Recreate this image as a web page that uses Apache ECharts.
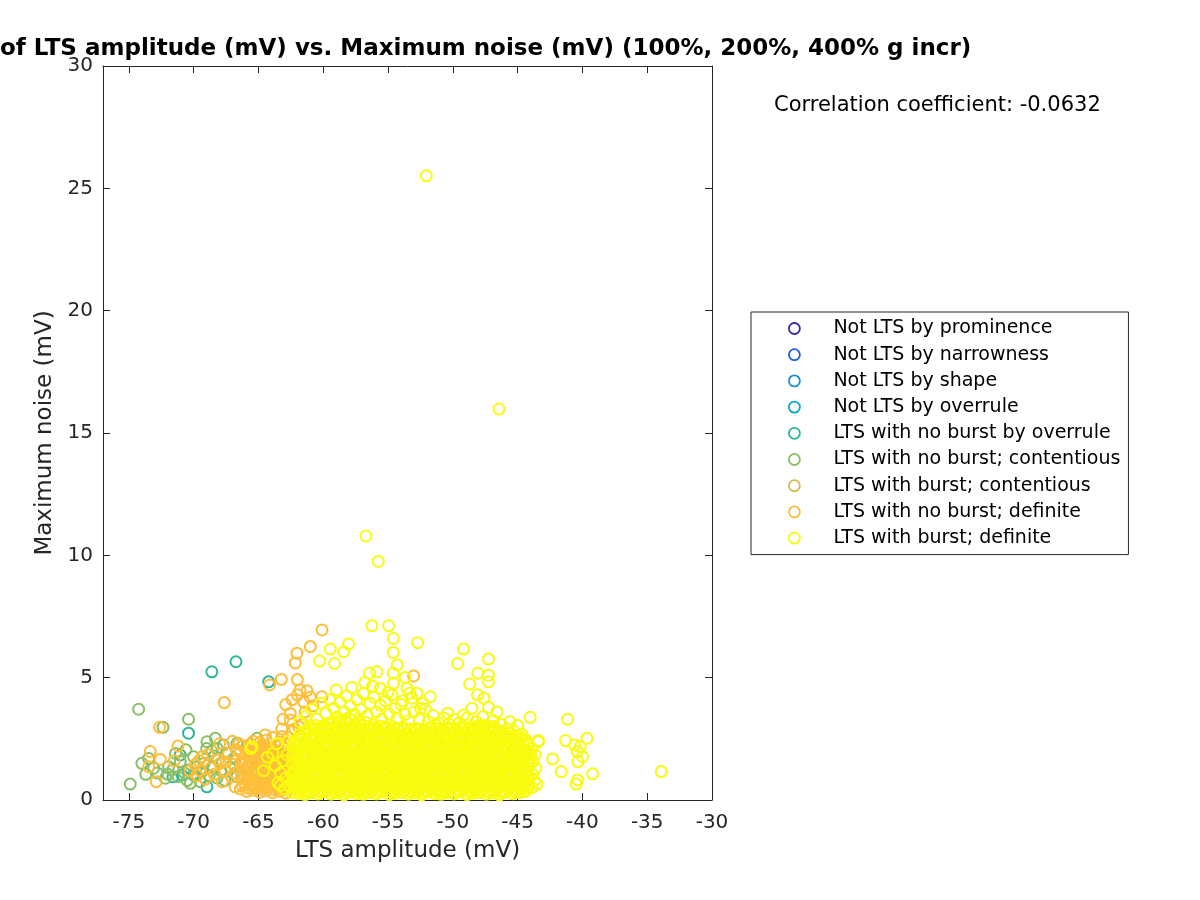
<!DOCTYPE html>
<html>
<head>
<meta charset="utf-8">
<script src="https://cdn.jsdelivr.net/npm/echarts@6/dist/echarts.min.js"></script>
<style>html,body{margin:0;padding:0;background:#fff}#chart{width:1200px;height:900px}</style>
</head>
<body>
<div id="chart"></div>
<script>
// ---------- DATA ----------
const categoryNames = ['Not LTS by prominence','Not LTS by narrowness','Not LTS by shape','Not LTS by overrule','LTS with no burst by overrule','LTS with no burst; contentious','LTS with burst; contentious','LTS with no burst; definite','LTS with burst; definite'];
const categoryColors = ['#3E26A8','#1A5FE6','#1D8CDE','#08A9C6','#2FB69B','#89BF66','#D6B74E','#FDBE3A','#F9FB0E'];
const xTicks = [-75,-70,-65,-60,-55,-50,-45,-40,-35,-30];
const yTicks = [0,5,10,15,20,25,30];
const correlationText = 'Correlation coefficient: -0.0632';

const notLtsProminence = [];
const notLtsNarrowness = [];
const notLtsShape = [];
const notLtsOverrule = [];

const noBurstOverrule = [[-68.6,5.24],[-66.74,5.65],[-64.22,4.83],[-70.4,2.73],[-71.04,1.84],[-70.9,1.02],[-70.0,1.02],[-68.98,0.54],[-63.57,1.91],[-66.2,1.05],[-71.6,0.95],[-70.4,1.22]];

const noBurstContentious = [[-74.25,3.71],[-72.37,2.97],[-70.4,3.3],[-73.48,1.7],[-74.9,0.65],[-72.19,0.89],[-71.94,1.36],[-71.04,1.57],[-70.01,1.77],[-69.75,1.36],[-70.26,0.68],[-69.36,1.16],[-68.98,2.38],[-68.33,2.52],[-68.2,2.11],[-68.6,2.0],[-67.43,1.91],[-66.66,2.32],[-66.66,0.95],[-65.12,2.52],[-63.57,0.5],[-73.1,1.3],[-72.8,1.1],[-72.0,1.05],[-71.6,1.25],[-71.2,0.95],[-70.7,1.1],[-70.5,0.8],[-69.9,1.0],[-69.5,0.75],[-69.2,1.5],[-68.8,1.0],[-68.5,1.35],[-68.2,0.9],[-67.9,1.2],[-67.6,0.8],[-67.2,1.35],[-66.9,1.7],[-66.4,1.5],[-65.9,1.3],[-65.4,1.8],[-64.8,2.1],[-64.2,1.6],[-63.7,1.2],[-69.0,2.1],[-68.4,1.8],[-67.7,2.25],[-71.4,1.9],[-70.6,2.05],[-74.0,1.5],[-73.7,1.05]];

const burstContentious = [];

const noBurstDefiniteSpread = [[-64.14,4.7],[-63.24,4.93],[-67.64,3.98],[-72.63,2.97],[-71.21,2.21],[-73.35,1.98],[-73.48,1.36],[-72.58,1.66],[-72.89,0.75],[-69.36,1.77],[-69.75,1.0],[-67.95,1.5],[-66.5,2.3],[-66.8,0.54],[-64.48,2.66],[-65.5,2.11],[-64.48,2.2],[-63.57,2.0],[-63.3,1.6],[-63.45,0.68],[-62.55,3.27],[-62.03,6.0],[-62.16,5.6],[-61.0,6.27],[-60.1,6.95],[-62.0,4.92],[-61.8,4.5],[-61.0,4.2],[-53.03,5.07],[-60.1,4.22],[-61.26,4.47],[-62.0,4.3],[-62.55,3.54],[-63.1,3.3],[-61.5,4.0],[-60.8,3.85],[-63.2,2.9],[-62.9,3.9],[-62.4,4.1],[-61.4,3.6],
[-69.9,1.45],[-69.5,1.2],[-69.1,0.85],[-68.7,1.3],[-68.4,1.05],[-68.1,1.65],[-67.8,0.75],[-67.6,1.2],[-67.3,1.9],[-67.1,0.95],[-66.9,1.45],[-66.7,2.05],[-67.5,1.55],[-68.9,1.85],[-69.6,1.6],[-70.3,1.2],[-71.5,1.6],[-68.0,2.3],[-67.0,2.4],[-66.8,1.1]];

const noBurstDefiniteCore = [[-66.4,0.45],[-66.1,0.7],[-66.3,0.95],[-66.05,1.2],[-66.35,1.45],[-66.15,1.7],[-66.4,1.95],[-66.2,2.2],
[-65.9,0.35],[-65.6,0.6],[-65.85,0.85],[-65.55,1.08],[-65.75,1.3],[-65.95,1.55],[-65.65,1.78],[-65.8,2.02],[-65.6,2.3],[-65.9,1.15],
[-65.4,0.4],[-65.15,0.62],[-65.35,0.84],[-65.05,1.05],[-65.25,1.26],[-65.45,1.48],[-65.1,1.7],[-65.3,1.92],[-65.0,2.15],[-65.4,2.4],[-65.2,0.98],
[-64.9,0.32],[-64.6,0.55],[-64.85,0.78],[-64.55,1.0],[-64.75,1.22],[-64.95,1.44],[-64.65,1.66],[-64.8,1.88],[-64.55,2.1],[-64.9,2.35],[-64.7,0.9],
[-64.4,0.38],[-64.15,0.6],[-64.35,0.82],[-64.05,1.04],[-64.25,1.26],[-64.45,1.48],[-64.1,1.7],[-64.3,1.92],[-64.0,2.14],[-64.4,2.45],
[-63.9,0.3],[-63.6,0.52],[-63.85,0.75],[-63.55,0.97],[-63.75,1.19],[-63.95,1.41],[-63.65,1.63],[-63.8,1.85],[-63.55,2.2],[-63.9,2.55],
[-63.4,0.36],[-63.15,0.58],[-63.35,0.8],[-63.05,1.02],[-63.25,1.24],[-63.45,1.46],[-63.1,1.68],[-63.3,1.9],[-63.0,2.12],[-63.4,2.36],[-63.2,2.6],
[-62.9,0.28],[-62.6,0.5],[-62.85,0.72],[-62.5,0.95],[-62.75,1.17],[-62.95,1.4],[-62.6,1.62],[-62.8,1.84],[-62.5,2.06],[-62.9,2.3],[-62.7,2.55],[-62.4,2.8],
[-62.2,2.9],[-61.9,3.0],[-61.6,3.1]];

const noBurstDefiniteFill = [[-65.75,0.48],[-65.7,0.97],[-65.78,1.42],[-65.72,1.9],[-65.25,0.5],[-65.22,1.15],[-65.28,1.6],[-65.2,2.05],[-64.75,0.44],[-64.72,1.1],[-64.78,1.55],[-64.7,2.0],[-64.25,0.5],[-64.22,0.93],[-64.28,1.37],[-64.2,1.8],[-63.75,0.42],[-63.72,0.86],[-63.78,1.3],[-63.7,1.74],[-63.25,0.47],[-63.22,0.9],[-63.28,1.35],[-63.2,1.79],[-62.75,0.4],[-62.72,0.84],[-62.78,1.28],[-62.7,1.72],[-66.25,0.58],[-66.22,1.08],[-66.28,1.58]];

const burstDefiniteCoreA = [[-62.4,0.31],[-62.2,0.52],[-62.45,0.74],[-62.1,0.9],[-62.3,1.12],[-62.05,1.3],[-62.4,1.48],[-62.15,1.66],[-62.35,1.85],[-62.0,2.02],[-62.25,2.2],[-62.1,2.41],[-62.4,1.02],[-62.2,0.63],
[-61.9,0.27],[-61.6,0.45],[-61.8,0.66],[-61.55,0.83],[-61.95,1.0],[-61.7,1.19],[-61.6,1.37],[-61.85,1.55],[-61.65,1.72],[-61.9,1.9],[-61.55,2.08],[-61.75,2.27],[-61.6,2.5],[-61.8,2.68],[-61.7,0.95],[-61.9,1.42],
[-61.4,0.22],[-61.15,0.4],[-61.35,0.58],[-61.05,0.77],[-61.3,0.93],[-61.1,1.1],[-61.45,1.28],[-61.2,1.46],[-61.0,1.63],[-61.35,1.81],[-61.1,1.99],[-61.4,2.17],[-61.2,2.36],[-61.05,2.55],[-61.3,2.73],[-61.15,2.9],
[-60.9,0.3],[-60.6,0.48],[-60.85,0.67],[-60.55,0.86],[-60.75,1.04],[-60.95,1.21],[-60.6,1.39],[-60.8,1.57],[-60.55,1.75],[-60.9,1.92],[-60.7,2.11],[-60.6,2.3],[-60.85,2.49],[-60.65,2.68],[-60.8,2.86],[-60.6,3.05],
[-60.4,0.25],[-60.1,0.43],[-60.35,0.62],[-60.05,0.8],[-60.25,0.98],[-60.45,1.16],[-60.15,1.34],[-60.3,1.52],[-60.05,1.7],[-60.4,1.88],[-60.2,2.06],[-60.0,2.25],[-60.35,2.44],[-60.15,2.62],[-60.3,2.81],[-60.1,3.0],
[-59.9,0.33],[-59.6,0.5],[-59.85,0.7],[-59.55,0.88],[-59.75,1.06],[-59.95,1.24],[-59.65,1.41],[-59.8,1.6],[-59.55,1.78],[-59.9,1.96],[-59.7,2.14],[-59.6,2.33],[-59.85,2.52],[-59.65,2.71],[-59.8,2.9],[-59.6,3.1],
[-59.4,0.24],[-59.15,0.41],[-59.35,0.6],[-59.05,0.79],[-59.25,0.97],[-59.45,1.15],[-59.1,1.33],[-59.3,1.51],[-59.0,1.69],[-59.4,1.87],[-59.2,2.05],[-59.05,2.24],[-59.35,2.43],[-59.15,2.61],[-59.3,2.8],[-59.1,3.0],[-59.25,3.2],
[-58.9,0.29],[-58.6,0.47],[-58.85,0.65],[-58.55,0.84],[-58.75,1.02],[-58.95,1.2],[-58.65,1.38],[-58.8,1.56],[-58.55,1.74],[-58.9,1.92],[-58.7,2.1],[-58.6,2.29],[-58.85,2.48],[-58.65,2.67],[-58.8,2.86],[-58.6,3.06],[-58.75,3.26],
[-58.4,0.21],[-58.1,0.39],[-58.35,0.57],[-58.05,0.76],[-58.25,0.94],[-58.45,1.12],[-58.15,1.3],[-58.3,1.48],[-58.05,1.66],[-58.4,1.84],[-58.2,2.02],[-58.0,2.21],[-58.35,2.4],[-58.15,2.58],[-58.3,2.77],[-58.1,2.96],[-58.25,3.16],[-58.05,3.35],
[-57.9,0.32],[-57.6,0.5],[-57.85,0.68],[-57.55,0.87],[-57.75,1.05],[-57.95,1.23],[-57.65,1.41],[-57.8,1.59],[-57.55,1.77],[-57.9,1.95],[-57.7,2.13],[-57.6,2.32],[-57.85,2.51],[-57.65,2.7],[-57.8,2.89],[-57.6,3.08],[-57.75,3.28],
[-57.4,0.26],[-57.15,0.44],[-57.35,0.63],[-57.05,0.81],[-57.25,0.99],[-57.45,1.17],[-57.1,1.35],[-57.3,1.53],[-57.0,1.71],[-57.4,1.89],[-57.2,2.07],[-57.05,2.26],[-57.35,2.45],[-57.15,2.64],[-57.3,2.83],[-57.1,3.03],[-57.25,3.22],
[-56.9,0.23],[-56.6,0.41],[-56.85,0.6],[-56.55,0.78],[-56.75,0.96],[-56.95,1.14],[-56.65,1.32],[-56.8,1.5],[-56.55,1.68],[-56.9,1.86],[-56.7,2.04],[-56.6,2.23],[-56.85,2.42],[-56.65,2.61],[-56.8,2.8],[-56.6,3.0],[-56.75,3.18],
[-56.4,0.3],[-56.15,0.48],[-56.35,0.66],[-56.05,0.85],[-56.25,1.03],[-56.45,1.21],[-56.1,1.39],[-56.3,1.57],[-56.0,1.75],[-56.4,1.93],[-56.2,2.11],[-56.05,2.3],[-56.35,2.49],[-56.15,2.68],[-56.3,2.87],[-56.1,3.07]];

const burstDefiniteFillA = [[-62.25,0.42],[-62.3,0.8],[-62.2,1.2],[-62.3,1.57],[-62.2,1.94],[-62.3,2.3],
[-61.75,0.36],[-61.8,0.74],[-61.72,1.1],[-61.78,1.47],[-61.7,1.83],[-61.8,2.18],[-61.72,2.56],
[-61.25,0.31],[-61.22,0.68],[-61.28,1.03],[-61.2,1.38],[-61.27,1.73],[-61.23,2.08],[-61.3,2.45],[-61.22,2.8],
[-60.75,0.39],[-60.72,0.76],[-60.78,1.12],[-60.7,1.48],[-60.76,1.84],[-60.8,2.2],[-60.73,2.58],[-60.77,2.95],
[-60.25,0.34],[-60.2,0.71],[-60.27,1.07],[-60.22,1.43],[-60.18,1.79],[-60.28,2.15],[-60.24,2.53],[-60.2,2.9],
[-59.75,0.41],[-59.72,0.79],[-59.78,1.15],[-59.7,1.51],[-59.76,1.87],[-59.8,2.23],[-59.73,2.61],[-59.77,3.0],
[-59.25,0.33],[-59.22,0.7],[-59.28,1.06],[-59.2,1.42],[-59.27,1.78],[-59.23,2.14],[-59.3,2.52],[-59.22,2.9],
[-58.75,0.38],[-58.72,0.75],[-58.78,1.11],[-58.7,1.47],[-58.76,1.83],[-58.8,2.19],[-58.73,2.57],[-58.77,2.96],[-58.72,3.16],
[-58.25,0.3],[-58.22,0.67],[-58.28,1.03],[-58.2,1.39],[-58.27,1.75],[-58.23,2.11],[-58.3,2.49],[-58.22,2.87],[-58.27,3.25],
[-57.75,0.41],[-57.72,0.78],[-57.78,1.14],[-57.7,1.5],[-57.76,1.86],[-57.8,2.22],[-57.73,2.6],[-57.77,2.98],
[-57.25,0.35],[-57.22,0.72],[-57.28,1.08],[-57.2,1.44],[-57.27,1.8],[-57.23,2.16],[-57.3,2.54],[-57.22,2.93],
[-56.75,0.32],[-56.72,0.69],[-56.78,1.05],[-56.7,1.41],[-56.76,1.77],[-56.8,2.13],[-56.73,2.51],[-56.77,2.9],
[-56.25,0.39],[-56.22,0.76],[-56.28,1.12],[-56.2,1.48],[-56.27,1.84],[-56.23,2.2],[-56.3,2.58],[-56.22,2.95]];

const burstDefiniteCoreB = [[-55.9,0.25],[-55.6,0.43],[-55.85,0.62],[-55.55,0.8],[-55.75,0.98],[-55.95,1.16],[-55.65,1.34],[-55.8,1.52],[-55.55,1.7],[-55.9,1.88],[-55.7,2.06],[-55.6,2.25],[-55.85,2.44],[-55.65,2.63],[-55.8,2.82],[-55.6,3.02],
[-55.4,0.34],[-55.15,0.52],[-55.35,0.7],[-55.05,0.89],[-55.25,1.07],[-55.45,1.25],[-55.1,1.43],[-55.3,1.61],[-55.0,1.79],[-55.4,1.97],[-55.2,2.15],[-55.05,2.34],[-55.35,2.53],[-55.15,2.72],[-55.3,2.92],
[-54.9,0.22],[-54.6,0.4],[-54.85,0.59],[-54.55,0.77],[-54.75,0.95],[-54.95,1.13],[-54.65,1.31],[-54.8,1.49],[-54.55,1.67],[-54.9,1.85],[-54.7,2.03],[-54.6,2.22],[-54.85,2.41],[-54.65,2.6],[-54.8,2.79],[-54.6,2.98],
[-54.4,0.28],[-54.15,0.46],[-54.35,0.65],[-54.05,0.83],[-54.25,1.01],[-54.45,1.19],[-54.1,1.37],[-54.3,1.55],[-54.0,1.73],[-54.4,1.91],[-54.2,2.09],[-54.05,2.28],[-54.35,2.47],[-54.15,2.66],[-54.3,2.86],
[-53.9,0.31],[-53.6,0.49],[-53.85,0.67],[-53.55,0.86],[-53.75,1.04],[-53.95,1.22],[-53.65,1.4],[-53.8,1.58],[-53.55,1.76],[-53.9,1.94],[-53.7,2.12],[-53.6,2.31],[-53.85,2.5],[-53.65,2.69],[-53.8,2.88],
[-53.4,0.24],[-53.15,0.42],[-53.35,0.61],[-53.05,0.79],[-53.25,0.97],[-53.45,1.15],[-53.1,1.33],[-53.3,1.51],[-53.0,1.69],[-53.4,1.87],[-53.2,2.05],[-53.05,2.24],[-53.35,2.43],[-53.15,2.62],[-53.3,2.82],
[-52.9,0.29],[-52.6,0.47],[-52.85,0.66],[-52.55,0.84],[-52.75,1.02],[-52.95,1.2],[-52.65,1.38],[-52.8,1.56],[-52.55,1.74],[-52.9,1.92],[-52.7,2.1],[-52.6,2.29],[-52.85,2.48],[-52.65,2.67],[-52.8,2.85],
[-52.4,0.21],[-52.15,0.39],[-52.35,0.58],[-52.05,0.76],[-52.25,0.94],[-52.45,1.12],[-52.1,1.3],[-52.3,1.48],[-52.0,1.66],[-52.4,1.84],[-52.2,2.02],[-52.05,2.21],[-52.35,2.4],[-52.15,2.59],[-52.3,2.78],
[-51.9,0.33],[-51.6,0.51],[-51.85,0.69],[-51.55,0.88],[-51.75,1.06],[-51.95,1.24],[-51.65,1.42],[-51.8,1.6],[-51.55,1.78],[-51.9,1.96],[-51.7,2.14],[-51.6,2.33],[-51.85,2.52],[-51.65,2.71],[-51.8,2.88],
[-51.4,0.26],[-51.15,0.44],[-51.35,0.63],[-51.05,0.81],[-51.25,0.99],[-51.45,1.17],[-51.1,1.35],[-51.3,1.53],[-51.0,1.71],[-51.4,1.89],[-51.2,2.07],[-51.05,2.26],[-51.35,2.45],[-51.15,2.64],[-51.3,2.84],
[-50.9,0.23],[-50.6,0.41],[-50.85,0.6],[-50.55,0.78],[-50.75,0.96],[-50.95,1.14],[-50.65,1.32],[-50.8,1.5],[-50.55,1.68],[-50.9,1.86],[-50.7,2.04],[-50.6,2.23],[-50.85,2.42],[-50.65,2.61],[-50.8,2.81],
[-50.4,0.3],[-50.15,0.48],[-50.35,0.66],[-50.05,0.85],[-50.25,1.03],[-50.45,1.21],[-50.1,1.39],[-50.3,1.57],[-50.0,1.75],[-50.4,1.93],[-50.2,2.11],[-50.05,2.3],[-50.35,2.49],[-50.15,2.68],[-50.3,2.87]];

const burstDefiniteFillB = [[-55.75,0.34],[-55.72,0.71],[-55.78,1.07],[-55.7,1.43],[-55.76,1.79],[-55.8,2.15],[-55.73,2.53],[-55.77,2.9],
[-55.25,0.43],[-55.22,0.8],[-55.28,1.16],[-55.2,1.52],[-55.27,1.88],[-55.23,2.24],[-55.3,2.62],[-55.22,2.98],
[-54.75,0.31],[-54.72,0.68],[-54.78,1.04],[-54.7,1.4],[-54.76,1.76],[-54.8,2.12],[-54.73,2.5],[-54.77,2.88],
[-54.25,0.37],[-54.22,0.74],[-54.28,1.1],[-54.2,1.46],[-54.27,1.82],[-54.23,2.18],[-54.3,2.56],[-54.22,2.92],
[-53.75,0.4],[-53.72,0.77],[-53.78,1.13],[-53.7,1.49],[-53.76,1.85],[-53.8,2.21],[-53.73,2.59],[-53.77,2.95],
[-53.25,0.33],[-53.22,0.7],[-53.28,1.06],[-53.2,1.42],[-53.27,1.78],[-53.23,2.14],[-53.3,2.52],[-53.22,2.9],
[-52.75,0.38],[-52.72,0.75],[-52.78,1.11],[-52.7,1.47],[-52.76,1.83],[-52.8,2.19],[-52.73,2.57],[-52.77,2.92],
[-52.25,0.3],[-52.22,0.67],[-52.28,1.03],[-52.2,1.39],[-52.27,1.75],[-52.23,2.11],[-52.3,2.49],[-52.22,2.86],
[-51.75,0.42],[-51.72,0.79],[-51.78,1.15],[-51.7,1.51],[-51.76,1.87],[-51.8,2.23],[-51.73,2.61],[-51.77,2.96],
[-51.25,0.35],[-51.22,0.72],[-51.28,1.08],[-51.2,1.44],[-51.27,1.8],[-51.23,2.16],[-51.3,2.54],[-51.22,2.92],
[-50.75,0.32],[-50.72,0.69],[-50.78,1.05],[-50.7,1.41],[-50.76,1.77],[-50.8,2.13],[-50.73,2.51],[-50.77,2.9],
[-50.25,0.39],[-50.22,0.76],[-50.28,1.12],[-50.2,1.48],[-50.27,1.84],[-50.23,2.2],[-50.3,2.58],[-50.22,2.94]];

const burstDefiniteCoreC = [[-49.9,0.25],[-49.6,0.43],[-49.85,0.62],[-49.55,0.8],[-49.75,0.98],[-49.95,1.16],[-49.65,1.34],[-49.8,1.52],[-49.55,1.7],[-49.9,1.88],[-49.7,2.06],[-49.6,2.25],[-49.85,2.44],[-49.65,2.63],[-49.8,2.83],
[-49.4,0.34],[-49.15,0.52],[-49.35,0.7],[-49.05,0.89],[-49.25,1.07],[-49.45,1.25],[-49.1,1.43],[-49.3,1.61],[-49.0,1.79],[-49.4,1.97],[-49.2,2.15],[-49.05,2.34],[-49.35,2.53],[-49.15,2.72],[-49.3,2.9],
[-48.9,0.22],[-48.6,0.4],[-48.85,0.59],[-48.55,0.77],[-48.75,0.95],[-48.95,1.13],[-48.65,1.31],[-48.8,1.49],[-48.55,1.67],[-48.9,1.85],[-48.7,2.03],[-48.6,2.22],[-48.85,2.41],[-48.65,2.6],[-48.8,2.8],[-48.6,2.98],
[-48.4,0.28],[-48.15,0.46],[-48.35,0.65],[-48.05,0.83],[-48.25,1.01],[-48.45,1.19],[-48.1,1.37],[-48.3,1.55],[-48.0,1.73],[-48.4,1.91],[-48.2,2.09],[-48.05,2.28],[-48.35,2.47],[-48.15,2.66],[-48.3,2.85],[-48.1,3.02],
[-47.9,0.31],[-47.6,0.49],[-47.85,0.67],[-47.55,0.86],[-47.75,1.04],[-47.95,1.22],[-47.65,1.4],[-47.8,1.58],[-47.55,1.76],[-47.9,1.94],[-47.7,2.12],[-47.6,2.31],[-47.85,2.5],[-47.65,2.69],[-47.8,2.88],[-47.6,3.05],
[-47.4,0.24],[-47.15,0.42],[-47.35,0.61],[-47.05,0.79],[-47.25,0.97],[-47.45,1.15],[-47.1,1.33],[-47.3,1.51],[-47.0,1.69],[-47.4,1.87],[-47.2,2.05],[-47.05,2.24],[-47.35,2.43],[-47.15,2.62],[-47.3,2.82],[-47.1,3.0],
[-46.9,0.29],[-46.6,0.47],[-46.85,0.66],[-46.55,0.84],[-46.75,1.02],[-46.95,1.2],[-46.65,1.38],[-46.8,1.56],[-46.55,1.74],[-46.9,1.92],[-46.7,2.1],[-46.6,2.29],[-46.85,2.48],[-46.65,2.67],[-46.8,2.86],
[-46.4,0.21],[-46.15,0.39],[-46.35,0.58],[-46.05,0.76],[-46.25,0.94],[-46.45,1.12],[-46.1,1.3],[-46.3,1.48],[-46.0,1.66],[-46.4,1.84],[-46.2,2.02],[-46.05,2.21],[-46.35,2.4],[-46.15,2.59],[-46.3,2.8],
[-45.9,0.33],[-45.6,0.51],[-45.85,0.69],[-45.55,0.88],[-45.75,1.06],[-45.95,1.24],[-45.65,1.42],[-45.8,1.6],[-45.55,1.78],[-45.9,1.96],[-45.7,2.14],[-45.6,2.33],[-45.85,2.52],[-45.65,2.72],[-45.8,2.9],
[-45.4,0.26],[-45.15,0.44],[-45.35,0.63],[-45.05,0.81],[-45.25,0.99],[-45.45,1.17],[-45.1,1.35],[-45.3,1.53],[-45.0,1.71],[-45.4,1.89],[-45.2,2.07],[-45.05,2.26],[-45.35,2.45],[-45.15,2.64],[-45.3,2.82],
[-44.9,0.3],[-44.6,0.48],[-44.85,0.66],[-44.55,0.85],[-44.75,1.03],[-44.95,1.21],[-44.65,1.39],[-44.8,1.57],[-44.55,1.75],[-44.9,1.93],[-44.7,2.11],[-44.6,2.3],[-44.85,2.49],[-44.65,2.68],
[-44.4,0.35],[-44.15,0.55],[-44.35,0.74],[-44.05,0.93],[-44.25,1.12],[-44.45,1.3],[-44.1,1.48],[-44.3,1.67],[-44.0,1.86],[-44.4,2.05],[-44.2,2.24],[-44.35,2.45],
[-43.9,0.5],[-43.7,0.78],[-43.85,1.05],[-43.6,1.3],[-43.8,1.58],[-43.65,1.85],[-43.9,2.1]];

const burstDefiniteFillC = [[-49.75,0.34],[-49.72,0.71],[-49.78,1.07],[-49.7,1.43],[-49.76,1.79],[-49.8,2.15],[-49.73,2.53],[-49.77,2.92],
[-49.25,0.43],[-49.22,0.8],[-49.28,1.16],[-49.2,1.52],[-49.27,1.88],[-49.23,2.24],[-49.3,2.62],[-49.22,2.98],
[-48.75,0.31],[-48.72,0.68],[-48.78,1.04],[-48.7,1.4],[-48.76,1.76],[-48.8,2.12],[-48.73,2.5],[-48.77,2.9],
[-48.25,0.37],[-48.22,0.74],[-48.28,1.1],[-48.2,1.46],[-48.27,1.82],[-48.23,2.18],[-48.3,2.56],[-48.22,2.94],
[-47.75,0.4],[-47.72,0.77],[-47.78,1.13],[-47.7,1.49],[-47.76,1.85],[-47.8,2.21],[-47.73,2.59],[-47.77,2.97],
[-47.25,0.33],[-47.22,0.7],[-47.28,1.06],[-47.2,1.42],[-47.27,1.78],[-47.23,2.14],[-47.3,2.52],[-47.22,2.9],
[-46.75,0.38],[-46.72,0.75],[-46.78,1.11],[-46.7,1.47],[-46.76,1.83],[-46.8,2.19],[-46.73,2.57],
[-46.25,0.3],[-46.22,0.67],[-46.28,1.03],[-46.2,1.39],[-46.27,1.75],[-46.23,2.11],[-46.3,2.49],
[-45.75,0.42],[-45.72,0.79],[-45.78,1.15],[-45.7,1.51],[-45.76,1.87],[-45.8,2.23],[-45.73,2.61],
[-45.25,0.35],[-45.22,0.72],[-45.28,1.08],[-45.2,1.44],[-45.27,1.8],[-45.23,2.16],[-45.3,2.54],
[-44.75,0.4],[-44.72,0.76],[-44.78,1.12],[-44.7,1.48],[-44.76,1.84],[-44.8,2.2],[-44.73,2.56],
[-44.25,0.45],[-44.22,0.84],[-44.28,1.21],[-44.2,1.58],[-44.27,1.95],[-44.23,2.33]];

const burstDefiniteLeft = [[-65.6,2.1],[-64.3,1.75],[-63.9,1.9],[-63.7,1.4],[-63.5,0.7],[-63.3,1.1],[-63.1,1.6],[-62.9,0.9],[-62.8,1.85],[-63.6,2.3],[-64.6,1.2],[-63.0,0.45],[-62.7,2.4],[-62.65,0.6],[-65.5,2.18],[-63.3,0.6]];

const burstDefiniteUpper = [[-61.8,3.2],[-61.3,3.45],[-60.9,3.7],[-60.5,3.3],[-60.2,3.95],[-59.8,3.55],[-59.5,4.1],[-59.2,3.75],[-58.9,3.4],[-58.7,4.0],[-58.4,3.6],[-58.2,4.25],[-57.9,3.85],[-57.6,3.5],[-57.4,4.1],[-57.1,3.7],[-56.9,4.35],[-56.6,3.45],[-56.4,3.95],[-56.1,4.2],[-55.9,3.6],[-55.5,3.3],[-55.2,4.05],[-54.9,3.5],[-54.7,4.3],[-54.3,3.35],[-54.0,3.9],[-53.7,3.5],[-53.4,3.25],[-53.0,3.6],[-52.6,3.3],[-52.3,3.95],[-51.9,3.2],[-51.5,3.45],[-51.1,3.15],[-50.7,3.35],[-50.3,3.1],[-49.9,3.3],[-49.5,3.15],[-48.9,3.35],[-48.2,3.2],[-47.7,3.4],[-46.9,3.25],[-46.3,3.1],[-45.6,3.2],[-45.0,3.05],[-59.0,4.5],[-57.8,4.6],[-56.8,4.8],[-56.2,4.65],[-55.0,4.4],[-53.9,4.05],[-52.5,3.75],[-50.4,3.55],[-48.1,4.3],[-46.6,3.6],
[-56.25,7.12],[-54.96,7.12],[-54.6,6.6],[-52.72,6.43],[-59.46,6.17],[-58.05,6.38],[-58.43,6.06],[-60.29,5.68],[-59.13,5.58],[-54.6,6.03],[-54.3,5.52],[-49.18,6.17],[-49.64,5.58],[-47.25,5.76],[-47.25,5.1],[-47.25,4.83],[-48.07,5.18],[-48.7,4.74],[-47.6,4.16],[-47.25,3.79],[-44.03,3.38],[-56.43,5.18],[-55.86,5.24],[-54.6,5.18],[-54.58,4.77],[-55.6,4.56],[-53.54,4.56],[-52.77,4.36],[-51.75,4.22],[-53.16,4.16],[-55.6,3.88],[-54.45,3.75],[-52.13,3.72],[-53.68,5.01],[-53.34,4.36],[-49.18,3.47],[-48.53,3.75],[-46.8,3.0]];

const burstDefiniteRight = [[-43.4,2.43],[-42.3,1.68],[-43.51,0.65],[-41.15,3.3],[-41.3,2.43],[-39.65,2.52],[-40.6,2.25],[-40.17,2.18],[-40.4,1.98],[-40.0,1.77],[-40.35,1.57],[-41.64,1.16],[-39.22,1.07],[-33.92,1.16],[-40.38,0.82],[-40.48,0.65],[-43.4,2.38]];

const burstDefiniteOutliers = [[-52.05,25.51],[-46.44,15.98],[-56.71,10.79],[-55.76,9.75]];

// ---------- CHART ----------
const seriesData = [
  notLtsProminence,
  notLtsNarrowness,
  notLtsShape,
  notLtsOverrule,
  noBurstOverrule,
  noBurstContentious,
  burstContentious,
  noBurstDefiniteSpread.concat(noBurstDefiniteCore, noBurstDefiniteFill),
  burstDefiniteLeft.concat(burstDefiniteCoreA, burstDefiniteFillA, burstDefiniteCoreB, burstDefiniteFillB, burstDefiniteCoreC, burstDefiniteFillC, burstDefiniteUpper, burstDefiniteRight, burstDefiniteOutliers)
];

const FONT = 'DejaVu Sans';
const TXT = '#262626';

const chart = echarts.init(document.getElementById('chart'), null, {renderer: 'canvas'});

const series = categoryNames.map((name, i) => ({
  name: name,
  type: 'scatter',
  xAxisIndex: 0,
  yAxisIndex: 0,
  data: seriesData[i],
  symbol: 'circle',
  symbolSize: 11,
  itemStyle: {color: 'rgba(0,0,0,0)', borderColor: categoryColors[i], borderWidth: 2, opacity: 1},
  emphasis: {disabled: true},
  animation: false,
  clip: false
}));

const axisCommon = {
  axisLine: {show: true, onZero: false, lineStyle: {color: TXT, width: 1}},
  splitLine: {show: false}
};

chart.setOption({
  animation: false,
  backgroundColor: '#ffffff',
  title: [
    {text: 'of LTS amplitude (mV) vs. Maximum noise (mV) (100%, 200%, 400% g incr)', left: 0, top: 38, padding: 0,
     textStyle: {fontFamily: FONT, fontWeight: 'bold', fontSize: 23, color: '#000'}},
    {text: correlationText, left: 774, top: 95, padding: 0,
     textStyle: {fontFamily: FONT, fontWeight: 'normal', fontSize: 21, color: '#000'}}
  ],
  legend: {
    orient: 'vertical',
    left: 751, top: 312,
    padding: [7, 8, 7, 37],
    itemWidth: 68, itemHeight: 11,
    itemGap: 7.2,
    backgroundColor: '#fff',
    borderColor: TXT, borderWidth: 1, borderRadius: 0,
    selectedMode: false,
    textStyle: {fontFamily: FONT, fontSize: 19, color: '#000', lineHeight: 19},
    data: categoryNames.map((n, i) => ({
      name: n, icon: 'circle',
      itemStyle: {color: 'rgba(0,0,0,0)', borderColor: categoryColors[i], borderWidth: 1.8}
    }))
  },
  grid: {left: 103, top: 66, width: 609, height: 734, containLabel: false},
  xAxis: [
    Object.assign({}, axisCommon, {
      type: 'value', position: 'bottom', min: -77, max: -30,
      name: 'LTS amplitude (mV)', nameLocation: 'middle', nameGap: 40,
      nameTextStyle: {fontFamily: FONT, fontSize: 23, color: TXT},
      axisTick: {show: true, inside: true, length: 7, customValues: xTicks, lineStyle: {color: TXT}},
      axisLabel: {show: true, margin: 13, customValues: xTicks, fontFamily: FONT, fontSize: 20, color: TXT}
    }),
    Object.assign({}, axisCommon, {
      type: 'value', position: 'top', min: -77, max: -30,
      axisTick: {show: true, inside: true, length: 7, customValues: xTicks, lineStyle: {color: TXT}},
      axisLabel: {show: false}
    })
  ],
  yAxis: [
    Object.assign({}, axisCommon, {
      type: 'value', position: 'left', min: 0, max: 30, interval: 5,
      name: 'Maximum noise (mV)', nameLocation: 'middle', nameGap: 46,
      nameTextStyle: {fontFamily: FONT, fontSize: 23, color: TXT},
      axisTick: {show: true, inside: true, length: 7, lineStyle: {color: TXT}},
      axisLabel: {show: true, margin: 10, fontFamily: FONT, fontSize: 20, color: TXT}
    }),
    Object.assign({}, axisCommon, {
      type: 'value', position: 'right', min: 0, max: 30, interval: 5,
      axisTick: {show: true, inside: true, length: 7, lineStyle: {color: TXT}},
      axisLabel: {show: false}
    })
  ],
  series: series
});
</script>
</body>
</html>
